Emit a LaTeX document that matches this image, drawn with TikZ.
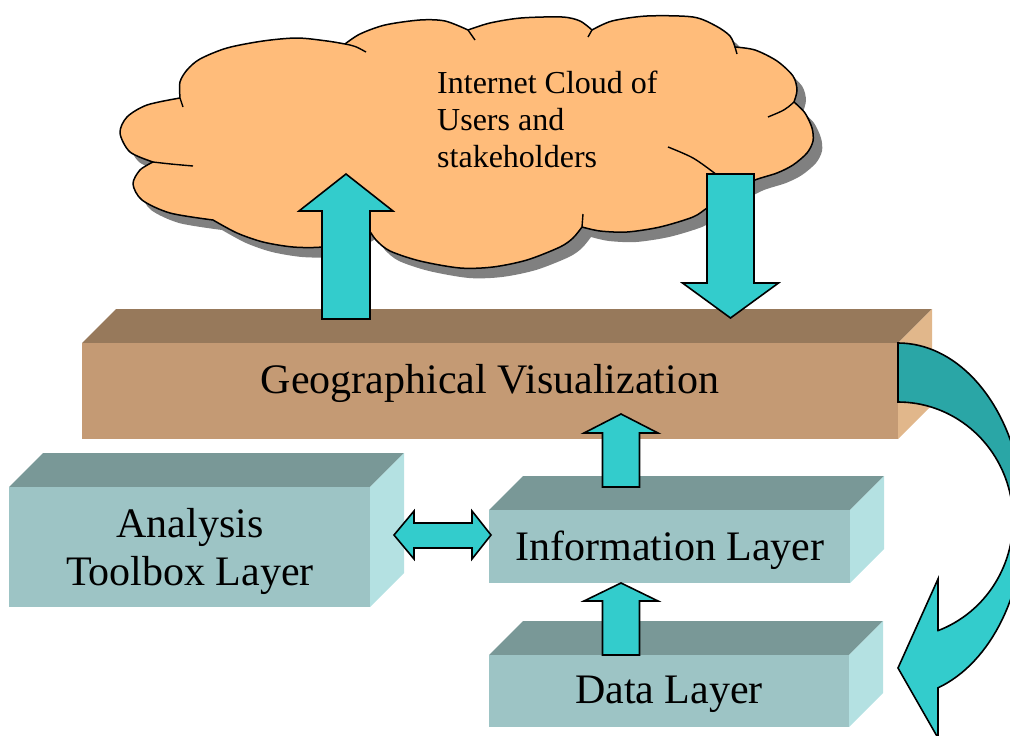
\documentclass[tikz,border=0pt]{standalone}
\usepackage{fontspec}
\setmainfont{Liberation Serif}
\definecolor{cloudfill}{HTML}{FFBC7A}
\definecolor{cloudshadow}{HTML}{808080}
\definecolor{arrowfill}{HTML}{33CCCC}
\definecolor{arrowdark}{HTML}{2AA6A6}
\definecolor{geofront}{HTML}{C49A74}
\definecolor{geotop}{HTML}{97795B}
\definecolor{georight}{HTML}{E1B78B}
\definecolor{tealfront}{HTML}{9DC4C5}
\definecolor{tealtop}{HTML}{799897}
\definecolor{tealright}{HTML}{B4E1E2}
\tikzset{
  blockarrow/.style={fill=arrowfill, draw=black, line width=1.6pt, line join=miter},
  crease/.style={draw=black, line width=1.4pt},
  lbl/.style={font=\fontsize{42}{50}\selectfont, inner sep=0pt, text=black},
  cloudtxt/.style={font=\fontsize{32}{37}\selectfont, inner sep=0pt, text=black}
}
\newcommand\cloudpath[1]{%
\path[#1] plot[smooth] coordinates {(180,98) (180,82) (187,70) (200,59) (227,48) (263,41) (297,38) (327,41) (345,44)}
 -- plot[smooth] coordinates {(345,44) (360,34) (385,25) (420,20) (445,21) (468,30)}
 -- plot[smooth] coordinates {(468,30) (490,23) (521,18) (562,17) (580,21) (592,30)}
 -- plot[smooth] coordinates {(592,30) (612,21) (647,16) (693,17) (716,26) (730,36) (735,47)}
 -- plot[smooth] coordinates {(735,47) (755,50) (777,61) (793,76) (797,90) (794,102)}
 -- plot[smooth] coordinates {(794,102) (805,113) (812,128) (813,141) (807,153) (793,165) (777,173) (755,180) (735,190)}
 -- plot[smooth] coordinates {(735,190) (720,200) (707,208) (693,217) (660,227) (627,232) (600,231) (582,227)}
 -- plot[smooth] coordinates {(582,227) (573,238) (560,247) (527,260) (493,267) (460,268) (420,261) (390,251) (376,240) (368,228)}
 -- plot[smooth] coordinates {(368,228) (345,241) (322,247) (293,247) (263,242) (237,233) (213,220)}
 -- plot[smooth] coordinates {(213,220) (170,213) (142,200) (133,184) (140,170) (153,162)}
 -- plot[smooth] coordinates {(153,162) (130,152) (120,133) (127,117) (147,105) (180,98)}
 -- cycle;}
\newcommand\curvedarrowpath[1]{%
\path[#1] plot[domain=-90:71.5, samples=70] ({898+126*cos(\x)},{520+177*sin(\x)})
 -- (938,738) -- (898,668) -- (938,579) -- (938,630.6)
 -- plot[domain=0:159.6, samples=70] ({898+115*cos(69.6-\x)},{520+118*sin(69.6-\x)})
 -- cycle;}
\newcommand\layerbox[7]{%
 \fill[#6] (#1,#2) -- ({#1+34},{#2-34}) -- ({#3+34},{#2-34}) -- (#3,#2) -- cycle;
 \fill[#7] (#3,#2) -- ({#3+34},{#2-34}) -- ({#3+34},{#4-34}) -- (#3,#4) -- cycle;
 \fill[#5] (#1,#2) rectangle (#3,#4);}
\newcommand\vblock[6]{%
 \draw[blockarrow] ({#1-#5},#2) -- ({#1-#5},#4) -- ({#1-#6},#4) -- (#1,#3) -- ({#1+#6},#4) -- ({#1+#5},#4) -- ({#1+#5},#2) -- cycle;}
\begin{document}
\begin{tikzpicture}[x=1pt,y=-1pt,line join=round]
\useasboundingbox (0,0) rectangle (1010,736);
% cloud
\cloudpath{fill=cloudshadow, shift={(9,10)}}
\cloudpath{fill=cloudfill, draw=black, line width=1.5pt}
\draw[crease] (180,98) -- (183,107);
\draw[crease] (153,162) .. controls (170,164) .. (193,166);
\draw[crease] (345,44) .. controls (355,46) .. (366,52);
\draw[crease] (468,30) -- (475,40);
\draw[crease] (592,30) -- (588,37);
\draw[crease] (735,47) -- (737,54);
\draw[crease] (794,102) .. controls (785,110) .. (768,117);
\draw[crease] plot[smooth] coordinates {(735,190) (717,175) (693,158) (668,147)};
\draw[crease] (582,227) -- (583,214);
\node[cloudtxt, anchor=base west] (c1) at (437,93) {Internet Cloud of};
\node[cloudtxt, anchor=base west] (c2) at (437,130) {Users and};
\node[cloudtxt, anchor=base west] (c3) at (437,167) {stakeholders};
% layers
\layerbox{82}{343}{898}{439}{geofront}{geotop}{georight}
\layerbox{9}{487}{370}{607}{tealfront}{tealtop}{tealright}
\layerbox{489}{510}{850}{583}{tealfront}{tealtop}{tealright}
\layerbox{489}{655}{849}{727}{tealfront}{tealtop}{tealright}
\node[lbl, anchor=base] (geo) at (490,393) {Geographical Visualization};
\node[lbl, anchor=base] (ana1) at (190,537) {Analysis};
\node[lbl, anchor=base] (ana2) at (190,585) {Toolbox Layer};
\node[lbl, anchor=base] (info) at (670,560) {Information Layer};
\node[lbl, anchor=base] (data) at (669,703) {Data Layer};
% block arrows
\vblock{346}{319}{174}{211}{24}{47}
\vblock{730.5}{174}{318}{283}{23.5}{48}
\vblock{621}{487}{414}{433}{18.5}{37}
\vblock{621}{655}{583}{601}{18.5}{37}
\draw[blockarrow] (394,535) -- (414,511) -- (414,523) -- (472,523) -- (472,511) -- (491,535) -- (472,559) -- (472,548) -- (414,548) -- (414,559) -- cycle;
% curved arrow
\curvedarrowpath{fill=arrowfill}
\begin{scope}
\clip (880,300) rectangle (1010,520);
\curvedarrowpath{fill=arrowdark}
\end{scope}
\curvedarrowpath{draw=black, line width=1.6pt, line join=miter}
\end{tikzpicture}
\end{document}
